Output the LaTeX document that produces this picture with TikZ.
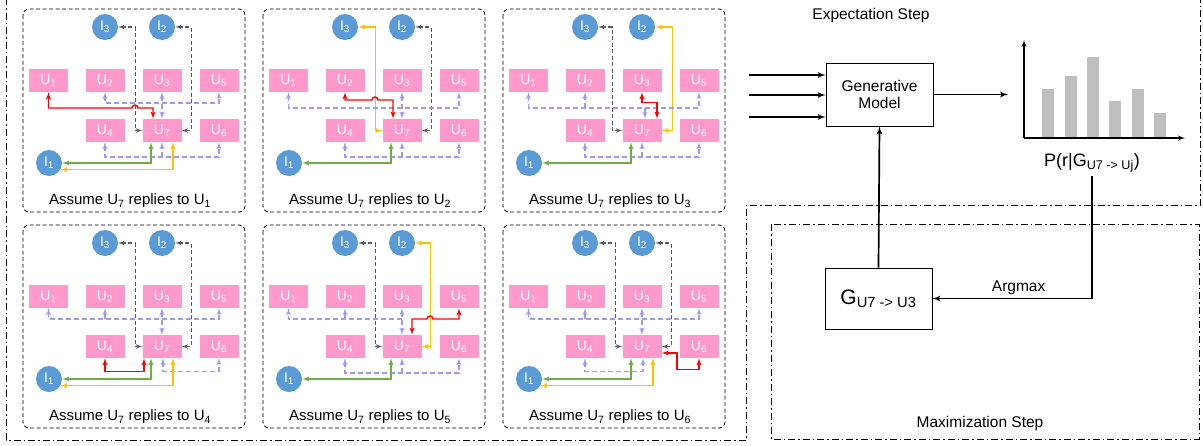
\documentclass[tikz,border=0pt]{standalone}
\usepackage{fontspec}
\setmainfont{Liberation Sans}
\usetikzlibrary{arrows}

\definecolor{upink}{RGB}{255,153,204}
\definecolor{iblue}{RGB}{91,155,213}
\definecolor{lnred}{RGB}{255,0,0}
\definecolor{lngreen}{RGB}{112,173,71}
\definecolor{lnyellow}{RGB}{255,192,0}
\definecolor{lnlav}{RGB}{153,153,255}
\definecolor{lngray}{RGB}{89,89,89}
\definecolor{bargray}{RGB}{191,191,191}

\tikzset{
  ubox/.style={rectangle,fill=upink,minimum width=39pt,minimum height=23pt,inner sep=0pt,text=white,font=\fontsize{14}{14}\selectfont},
  inode/.style={circle,fill=iblue,minimum size=26pt,inner sep=0pt,text=white,font=\fontsize{14}{14}\selectfont},
  panelbox/.style={draw,line width=0.8pt,dash pattern=on 4pt off 2.5pt,rounded corners=6pt},
  capt/.style={font=\fontsize{15}{15}\selectfont},
  redl/.style={draw=lnred,line width=1.4pt,<->},
  grnl/.style={draw=lngreen,line width=1.4pt,<->},
  ylwl/.style={draw=lnyellow,line width=1.4pt,<->},
  lavl/.style={draw=lnlav,line width=1.3pt,dash pattern=on 5pt off 3pt},
  gryl/.style={draw=lngray,line width=1.1pt,dash pattern=on 4pt off 2.5pt,<->},
  block/.style={rectangle,draw,line width=0.9pt,align=center,font=\fontsize{15.5}{17}\selectfont},
  flow/.style={line width=1.7pt,->},
  stepframe/.style={draw,line width=0.8pt,dash pattern=on 7pt off 3pt on 1.5pt off 3pt},
  steplbl/.style={font=\fontsize{15.5}{15.5}\selectfont}
}

% nodes of one panel, #1 = prefix, #2 = target user
\newcommand{\panelnodes}[2]{%
  \draw[panelbox] (0,0) rectangle (222,203);
  \node[inode] (#1I3) at (82,18) {I\textsubscript{3}};
  \node[inode] (#1I2) at (139,18) {I\textsubscript{2}};
  \node[inode] (#1I1) at (26,154) {I\textsubscript{1}};
  \foreach \n/\px/\py in {1/25.5/71.5,2/82/71.5,3/139/71.5,5/196/71.5,4/82/121.5,7/139/121.5,6/196/121.5}
    \node[ubox] (#1U\n) at (\px,\py) {U\textsubscript{\n}};
  \node[capt] (#1cap) at (107,192) {Assume U\textsubscript{7} replies to U\textsubscript{#2}};
}

\begin{document}
\begin{tikzpicture}[x=1pt,y=-1pt,>=latex']
\useasboundingbox (0,0) rectangle (1203,445);

% expectation / maximization frames
\draw[stepframe] (6,-2) -- (6,440) -- (746,440) -- (746,205) -- (1200,205) -- (1200,-2);
\draw[stepframe] (771,224) rectangle (1199,439);
\node[steplbl] (estep) at (871,15) {Expectation Step};
\node[steplbl] (mstep) at (980,423) {Maximization Step};

% panel U1
\begin{scope}[shift={(23,9)}]
  \panelnodes{p1}{1}
  \draw[gryl] (p1I3.east) -- ++(17,0) |- (p1U7.west);
  \draw[gryl] (p1I2.east) -- ++(16,0) |- (p1U7.east);
  \draw[lavl,<->] (p1U3.south) -- (p1U7.north);
  \draw[lavl,<->] (p1U2.south) |- (139,94) -| (p1U5.south);
  \draw[lavl,<->] (p1U4.south) |- (139,148) -| (p1U6.south);
  \draw[lavl,->] (p1U7.south |- 0,148) -- (p1U7.south);
  \draw[redl] ([xshift=-9pt]p1U7.north) |- (115,99) arc[start angle=0,end angle=-180,radius=3] -| (p1U1.south);
  \draw[grnl] ([xshift=-11pt]p1U7.south) |- (p1I1.east);
  \draw[ylwl] ([xshift=11pt]p1U7.south) |- (p1I1.-30);
\end{scope}

% panel U2
\begin{scope}[shift={(263,9)}]
  \panelnodes{p2}{2}
  \draw[gryl] (p2I2.east) -- ++(16,0) |- (p2U7.east);
  \draw[ylwl] (p2I3.east) -- ++(17,0) |- (p2U7.west);
  \draw[lavl,<->] (p2U3.south) -- (p2U7.north);
  \draw[lavl,<->] (p2U1.south) |- (139,99) -| (p2U5.south);
  \draw[lavl,<->] (p2U4.south) |- (139,148) -| (p2U6.south);
  \draw[lavl,->] (p2U7.south |- 0,148) -- (p2U7.south);
  \draw[redl] ([xshift=-9pt]p2U7.north) |- (115,91) arc[start angle=0,end angle=-180,radius=3] -| (p2U2.south);
  \draw[grnl] ([xshift=-11pt]p2U7.south) |- (p2I1.east);
\end{scope}

% panel U3
\begin{scope}[shift={(503,9)}]
  \panelnodes{p3}{3}
  \draw[gryl] (p3I3.east) -- ++(14,0) |- (p3U7.west);
  \draw[ylwl] (p3I2.east) -- ++(17,0) |- (p3U7.east);
  \draw[lavl,<->] (p3U1.south) |- (139,99) -| (p3U5.south);
  \draw[lavl,->] (p3U2.south |- 0,99) -- (p3U2.south);
  \draw[lavl,->] ([xshift=3pt]p3U7.north |- 0,99) -- ([xshift=3pt]p3U7.north);
  \draw[lavl,<->] (p3U4.south) |- (139,148) -| (p3U6.south);
  \draw[lavl,->] (p3U7.south |- 0,148) -- (p3U7.south);
  \draw[redl] (p3U3.south) -- ++(0,10) -| ([xshift=15pt]p3U7.north);
  \draw[grnl] ([xshift=-11pt]p3U7.south) |- (p3I1.east);
\end{scope}

% panel U4
\begin{scope}[shift={(23,225)}]
  \panelnodes{p4}{4}
  \draw[gryl] (p4I3.east) -- ++(17,0) |- (p4U7.west);
  \draw[gryl] (p4I2.east) -- ++(16,0) |- (p4U7.east);
  \draw[lavl,<->] (p4U3.south) -- (p4U7.north);
  \draw[lavl,<->] (p4U1.south) |- (139,94) -| (p4U5.south);
  \draw[lavl,->] (p4U2.south |- 0,94) -- (p4U2.south);
  \draw[lavl,<->] ([xshift=1pt]p4U7.south) -- ++(0,13) -| (p4U6.south);
  \draw[redl] (p4U4.south) -- ++(0,13) -| ([xshift=-18pt]p4U7.south);
  \draw[grnl] ([xshift=-11pt]p4U7.south) |- (p4I1.east);
  \draw[ylwl] ([xshift=11pt]p4U7.south) |- (p4I1.-30);
\end{scope}

% panel U5
\begin{scope}[shift={(263,225)}]
  \panelnodes{p5}{5}
  \draw[gryl] (p5I3.east) -- ++(17,0) |- (p5U7.west);
  \draw[ylwl] (p5I2.east) -- ++(15,0) |- (p5U7.east);
  \draw[lavl,<->] (p5U3.south) -- (p5U7.north);
  \draw[lavl,->] (p5U3.south |- 0,94) -| (p5U1.south);
  \draw[lavl,->] (p5U2.south |- 0,94) -- (p5U2.south);
  \draw[lavl,<->] (p5U4.south) |- (139,148) -| (p5U6.south);
  \draw[lavl,->] (p5U7.south |- 0,148) -- (p5U7.south);
  \draw[redl] ([xshift=10pt]p5U7.north) |- (164,94) arc[start angle=180,end angle=360,radius=3] -| (p5U5.south);
  \draw[grnl] ([xshift=-11pt]p5U7.south) |- (p5I1.east);
\end{scope}

% panel U6
\begin{scope}[shift={(503,225)}]
  \panelnodes{p6}{6}
  \draw[gryl] (p6I3.east) -- ++(17,0) |- (p6U7.west);
  \draw[gryl] (p6I2.east) -- ++(16,0) |- (p6U7.east);
  \draw[lavl,<->] (p6U3.south) -- (p6U7.north);
  \draw[lavl,<->] (p6U1.south) |- (139,94) -| (p6U5.south);
  \draw[lavl,->] (p6U2.south |- 0,94) -- (p6U2.south);
  \draw[lavl,<->] (p6U4.south) -- ++(0,13) -| ([xshift=1pt]p6U7.south);
  \draw[redl] (p6U6.south) -- ++(0,11) -| (174,128) -- ([yshift=-6.5pt]p6U7.east);
  \draw[grnl] ([xshift=-11pt]p6U7.south) |- (p6I1.east);
  \draw[ylwl] ([xshift=11pt]p6U7.south) |- (p6I1.-30);
\end{scope}

% generative model and inputs
\node[block,minimum width=107pt,minimum height=63pt] (gm) at (879.5,94.5) {Generative\\Model};
\coordinate (in1) at (749,75);
\coordinate (in2) at (749,95);
\coordinate (in3) at (749,117);
\foreach \i in {1,2,3}
  \draw[flow] (in\i) -- (in\i -| gm.west);
\coordinate (out) at (1008,94.5);
\draw[flow] (gm.east) -- (out);

% distribution chart
\coordinate (org) at (1024,138);
\foreach \bx/\bt in {1042/89,1065/76,1087/57,1109/101,1132/89,1154/113}
  \fill[bargray] (\bx,138) rectangle (\bx+12,\bt);
\draw[line width=1.3pt,->] (org) -- (1024,40);
\draw[line width=1.3pt,->] (org) -- (1185,138);
\node[font=\fontsize{18}{18}\selectfont] (plbl) at (1092,163) {P(r|G\textsubscript{U7 -> Uj})};

% maximization
\node[block,minimum width=107pt,minimum height=61pt,font=\fontsize{21}{21}\selectfont] (gbox) at (878.5,298.5) {G\textsubscript{U7 -> U3}};
\draw[flow] (plbl.south) |- (gbox.east) node[steplbl,above,pos=0.73] {Argmax};
\draw[flow] (gbox.north) -- (gm.south);
\end{tikzpicture}
\end{document}
